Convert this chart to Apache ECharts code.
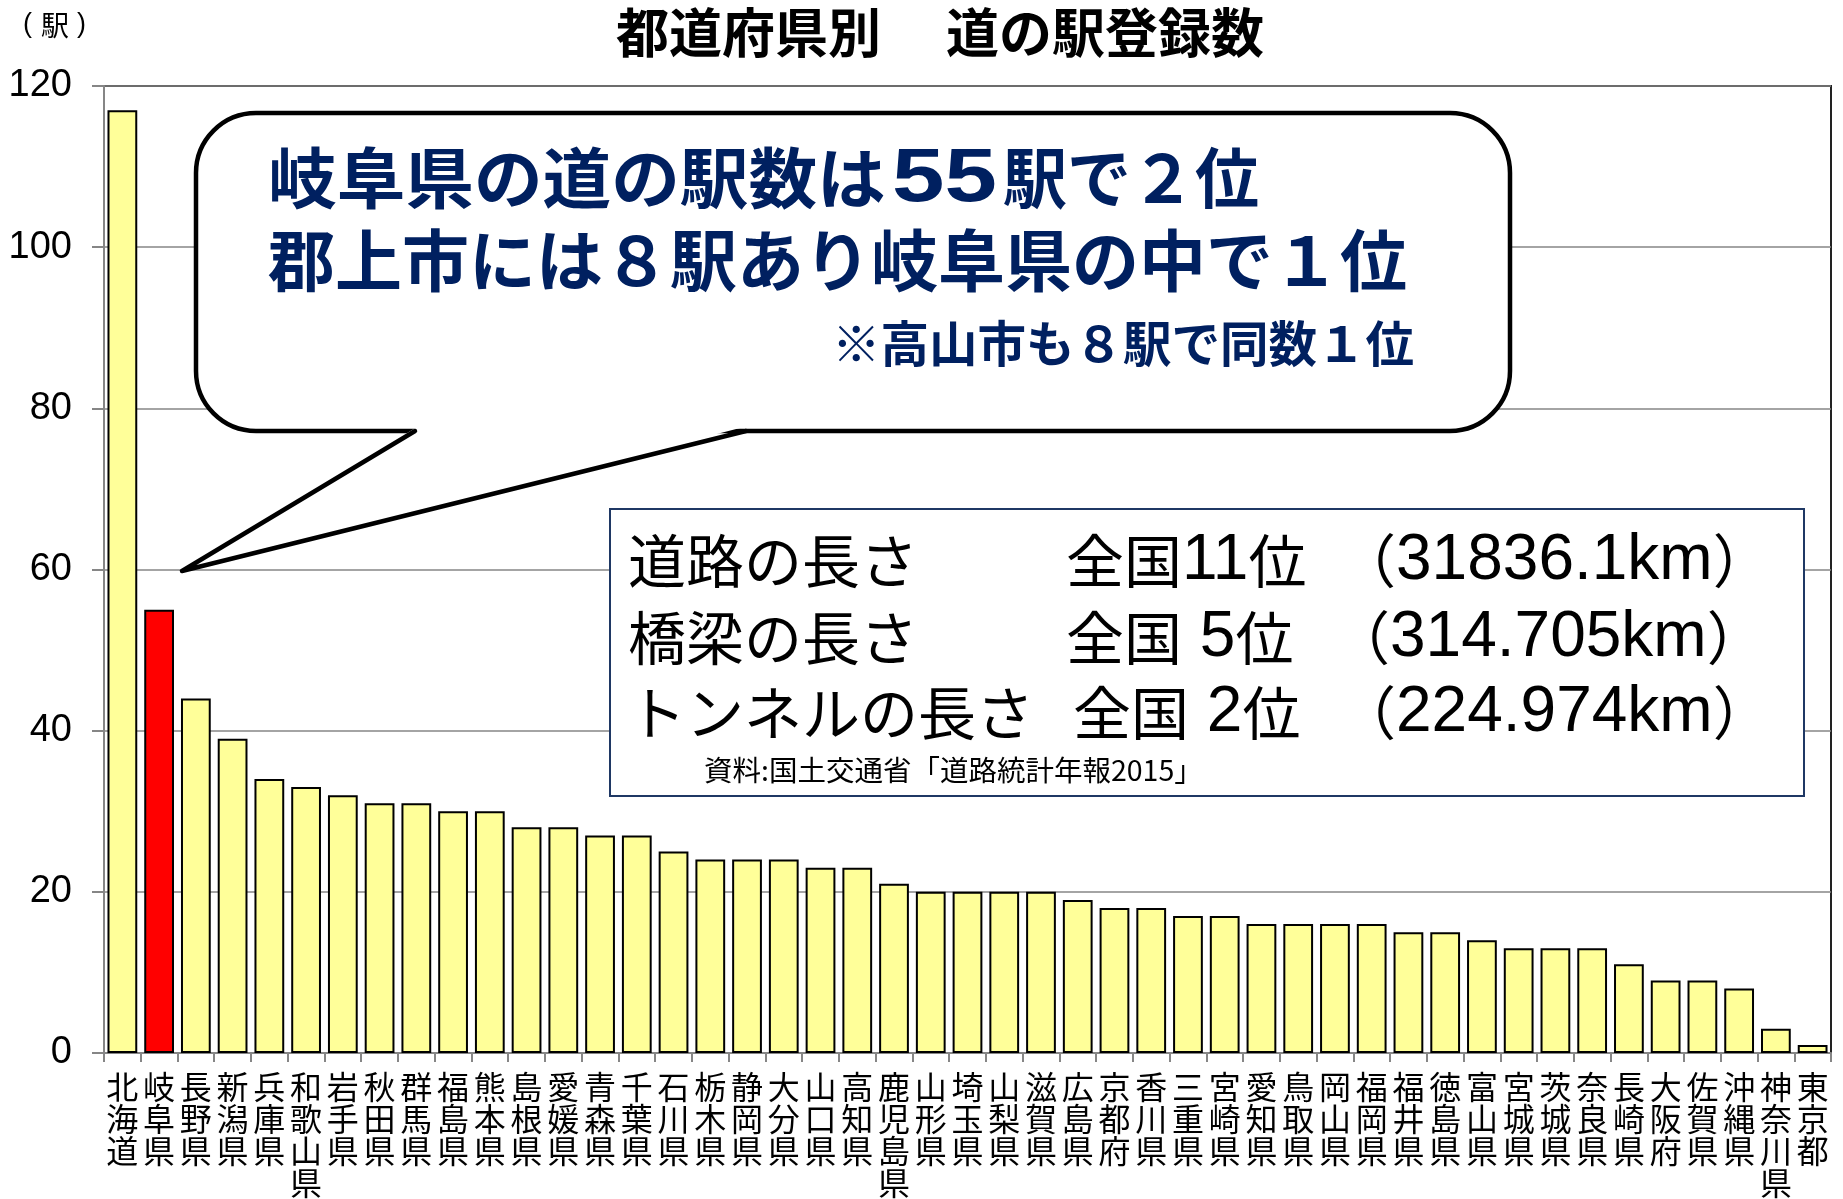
<!DOCTYPE html>
<html>
<head>
<meta charset="utf-8">
<script src="https://cdn.jsdelivr.net/npm/echarts@6/dist/echarts.min.js"></script>
<style>
  html, body { margin: 0; padding: 0; background: #ffffff; }
  #main { width: 1843px; height: 1199px; }
</style>
</head>
<body>
<div id="main"></div>
<script>
// Registered roadside stations (道の駅) per prefecture, sorted descending
const categories = ['北海道','岐阜県','長野県','新潟県','兵庫県','和歌山県','岩手県','秋田県','群馬県','福島県','熊本県','島根県','愛媛県','青森県','千葉県','石川県','栃木県','静岡県','大分県','山口県','高知県','鹿児島県','山形県','埼玉県','山梨県','滋賀県','広島県','京都府','香川県','三重県','宮崎県','愛知県','鳥取県','岡山県','福岡県','福井県','徳島県','富山県','宮城県','茨城県','奈良県','長崎県','大阪府','佐賀県','沖縄県','神奈川県','東京都'];
const stationCounts = [117,55,44,39,34,33,32,31,31,30,30,28,28,27,27,25,24,24,24,23,23,21,20,20,20,20,19,18,18,17,17,16,16,16,16,15,15,14,13,13,13,11,9,9,8,3,1];
const highlightPrefecture = '岐阜県';

// Value axis range and step
const axisMin = 0;
const axisMax = 120;
const axisStep = 20;

// Texts
const chartTitle = '都道府県別　 道の駅登録数';
const unitLabel = ['(', '駅', ')'];
const calloutHead = ['岐阜県の道の駅数は', '55', '駅で２位'];
const calloutLines = ['郡上市には８駅あり岐阜県の中で１位', '※高山市も８駅で同数１位'];
const infoLabels = ['道路の長さ', '橋梁の長さ', 'トンネルの長さ'];
const infoRanks = ['全国11位', '全国 5位', '全国 2位'];
const infoLengths = ['（31836.1km）', '（314.705km）', '（224.974km）'];
const sourceNote = '資料:国土交通省「道路統計年報2015」';

const JP = '"Noto Sans CJK JP", "Noto Sans CJK SC", sans-serif';
const LAT = '"Liberation Sans", Arial, sans-serif';
const NAVY = '#002060';

const chart = echarts.init(document.getElementById('main'), null, { renderer: 'canvas' });

// Speech bubble geometry (rounded box + pointed tail)
const bubble = { L: 196, T: 113, R: 1510, B: 431, r: 60 };
const tailBaseA = 417, tailBaseB = 744, tailTip = [182, 571];

const infoRowY = [561, 638, 713];
const infoRankX = [1066, 1066, 1073];
const infoLenX = [1338, 1332, 1338];

function txt(text, x, y, font, fill, align, z) {
  return {
    type: 'text', z: z || 21,
    style: { text: text, x: x, y: y, align: align || 'left', verticalAlign: 'middle', font: font, fill: fill }
  };
}

// Text placed at (x, y) and stretched horizontally by sx
function stretchedTxt(text, x, y, font, fill, sx) {
  return {
    type: 'text', z: 23, x: x, y: y, scaleX: sx, scaleY: 1,
    style: { text: text, x: 0, y: 0, align: 'left', verticalAlign: 'middle', font: font, fill: fill }
  };
}

// Split a string into rich-text runs: Latin characters in one style, the rest in another
function richRuns(s, latinKey, jpKey) {
  const parts = s.match(/[\x20-\x7e]+|[^\x20-\x7e]+/g) || [];
  return parts.map(function (p) {
    return '{' + (/^[\x20-\x7e]/.test(p) ? latinKey : jpKey) + '|' + p + '}';
  }).join('');
}

function infoText(s, x, y) {
  return {
    type: 'text', z: 21,
    style: {
      text: richRuns(s, 'n', 'j'), x: x, y: y, align: 'left', verticalAlign: 'middle',
      rich: {
        j: { fontFamily: JP, fontSize: 58, fill: '#000', verticalAlign: 'middle' },
        n: { fontFamily: LAT, fontSize: 64, fill: '#000', verticalAlign: 'middle' }
      }
    }
  };
}

const graphics = [
  txt(chartTitle, 940, 33, 'bold 53px ' + JP, '#000', 'center', 10),
  txt(unitLabel[0], 23, 25, '27px ' + LAT, '#000', 'left', 10),
  txt(unitLabel[1], 41, 25, '28px ' + JP, '#000', 'left', 10),
  txt(unitLabel[2], 77, 25, '27px ' + LAT, '#000', 'left', 10),
  {
    type: 'rect', z: 20,
    shape: { x: bubble.L, y: bubble.T, width: bubble.R - bubble.L, height: bubble.B - bubble.T, r: bubble.r },
    style: { fill: '#ffffff', stroke: '#000000', lineWidth: 4.5 }
  },
  {
    type: 'polygon', z: 21,
    shape: { points: [[tailBaseA, bubble.B - 4], tailTip, [tailBaseB, bubble.B - 4]] },
    style: { fill: '#ffffff', stroke: null }
  },
  {
    type: 'polyline', z: 22,
    shape: { points: [[tailBaseA - 2, bubble.B], tailTip, [tailBaseB + 2, bubble.B]] },
    style: { fill: null, stroke: '#000000', lineWidth: 4.5, lineJoin: 'round', lineCap: 'round' }
  },
  stretchedTxt(calloutHead[0], 268, 178, 'bold 66px ' + JP, NAVY, 1.04),
  stretchedTxt(calloutHead[1], 892, 180, 'bold 76px ' + LAT, NAVY, 1.24),
  stretchedTxt(calloutHead[2], 1003, 178, 'bold 66px ' + JP, NAVY, 0.97),
  txt(calloutLines[0], 268, 261, 'bold 67px ' + JP, NAVY, 'left', 23),
  txt(calloutLines[1], 1414, 344, 'bold 48.5px ' + JP, NAVY, 'right', 23),
  {
    type: 'rect', z: 20,
    shape: { x: 610, y: 509, width: 1194, height: 287 },
    style: { fill: '#ffffff', stroke: '#1F3864', lineWidth: 2 }
  },
  txt(sourceNote, 704, 770, '28.5px ' + JP, '#000', 'left', 21)
];

infoLabels.forEach(function (lab, i) {
  graphics.push(txt(lab, 628, infoRowY[i], '58px ' + JP, '#000'));
  graphics.push(infoText(infoRanks[i], infoRankX[i], infoRowY[i]));
  graphics.push(infoText(infoLengths[i], infoLenX[i], infoRowY[i]));
});

const option = {
  backgroundColor: '#ffffff',
  animation: false,
  grid: {
    left: 104, right: 12, top: 86, bottom: 144,
    show: true, borderColor: '#222222', borderWidth: 2, backgroundColor: 'transparent'
  },
  xAxis: {
    type: 'category',
    data: categories,
    axisLine: { show: true, lineStyle: { color: '#868686', width: 2 } },
    axisTick: { show: true, interval: 0, length: 9, lineStyle: { color: '#868686', width: 2 } },
    axisLabel: {
      interval: 0, margin: 18, color: '#000',
      fontFamily: JP, fontSize: 32, lineHeight: 32,
      formatter: function (v) { return v.split('').join('\n'); }
    },
    splitLine: { show: false }
  },
  yAxis: {
    type: 'value',
    min: axisMin, max: axisMax, interval: axisStep,
    axisLine: { show: true, lineStyle: { color: '#868686', width: 2 } },
    axisTick: { show: true, length: 12, lineStyle: { color: '#868686', width: 2 } },
    axisLabel: { color: '#000', fontFamily: LAT, fontSize: 38, margin: 32 },
    splitLine: { show: true, lineStyle: { color: '#868686', width: 1.5 } }
  },
  series: [{
    type: 'bar',
    data: stationCounts.map(function (v, i) {
      return {
        value: v,
        itemStyle: { color: categories[i] === highlightPrefecture ? '#FF0000' : '#FFFF99' }
      };
    }),
    barCategoryGap: '19%',
    itemStyle: { borderColor: '#000000', borderWidth: 2 },
    z: 3
  }],
  graphic: graphics
};

chart.setOption(option);
</script>
</body>
</html>
